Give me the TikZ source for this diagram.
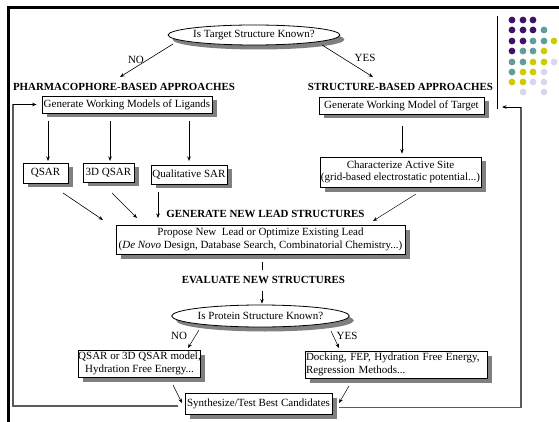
\documentclass[tikz,border=0pt]{standalone}
\usepackage{fontspec}
\setmainfont{Liberation Serif}
\usetikzlibrary{shapes.geometric,shadows,arrows.meta}
\definecolor{shgray}{HTML}{808080}
\definecolor{dpurple}{HTML}{3F1268}
\definecolor{dteal}{HTML}{5F9C9A}
\definecolor{dyellow}{HTML}{CCCC00}
\definecolor{dlav}{HTML}{D8D8EC}
\definecolor{loopgray}{HTML}{5A5A5A}
\tikzset{
  sh/.style={drop shadow={shadow xshift=4.5pt, shadow yshift=-4.5pt, fill=shgray, opacity=1}},
  box/.style={draw=black, line width=0.8pt, fill=white, inner sep=0pt, align=center, sh, font=\fontsize{11}{12.5}\selectfont},
  oval/.style={ellipse, draw=black, line width=0.8pt, fill=white, inner sep=0pt, sh, font=\fontsize{11}{12.5}\selectfont},
  head/.style={font=\fontsize{10.9}{12}\selectfont\bfseries, inner sep=0pt},
  lbl/.style={font=\fontsize{11}{12}\selectfont, inner sep=0pt},
  arr/.style={line width=0.6pt, -{Stealth[length=4.5pt,width=3.5pt]}},
  loopline/.style={line width=1.1pt, draw=loopgray},
}
\begin{document}
\begin{tikzpicture}[x=1pt,y=-1pt]
\useasboundingbox (0,0) rectangle (559,422);
% frame
\draw[line width=3pt] (8,422) -- (8,8) -- (559,8);
\draw[line width=0.9pt] (497,16) -- (497,109);
% dots
\foreach \c/\x/\y in {dpurple/512/20, dpurple/523/20, dpurple/533/20,
  dpurple/512/30, dpurple/523/30, dpurple/533/30, dteal/544/30,
  dpurple/512/41, dpurple/523/41, dteal/533/41, dteal/544/41, dyellow/554/41,
  dpurple/512/51, dteal/523/51, dteal/533/51, dyellow/544/51,
  dteal/512/62, dteal/523/62, dyellow/533/62, dyellow/544/62, dlav/554/62,
  dteal/512/72, dyellow/523/72, dyellow/533/72, dlav/544/72,
  dyellow/512/82, dyellow/523/82, dlav/533/82, dlav/544/82,
  dlav/523/92, dlav/544/92}
  \fill[\c] (\x,\y) circle (3.4pt);

% nodes
\node[oval, minimum width=142pt, minimum height=20pt] (q1) at (254,35) {Is Target Structure Known?};
\node[lbl] (no1) at (136,60) {NO};
\node[lbl] (yes1) at (365,58) {YES};
\node[head] (hph) at (124,87) {PHARMACOPHORE-BASED APPROACHES};
\node[head] (hst) at (400.5,87) {STRUCTURE-BASED APPROACHES};
\node[box, minimum width=170pt, minimum height=17pt] (lig) at (127,104.5) {Generate Working Models of Ligands};
\node[box, minimum width=165pt, minimum height=17pt] (tgt) at (401.5,105.5) {Generate Working Model of Target};
\node[box, minimum width=45pt, minimum height=20pt] (qsar) at (45.5,173) {QSAR};
\node[box, minimum width=51pt, minimum height=19pt] (q3d) at (108.5,172.5) {3D QSAR};
\node[box, minimum width=76pt, minimum height=19pt] (qual) at (189,174.5) {Qualitative SAR};
\node[box, minimum width=161pt, minimum height=30pt] (site) at (400.5,172) {Characterize Active Site\\(grid-based electrostatic potential...)};
\node[head] (hgen) at (265.5,214) {GENERATE NEW LEAD STRUCTURES};
\node[box, minimum width=289pt, minimum height=29pt] (prop) at (260.5,239.5) {Propose New\ \ Lead or Optimize Existing Lead\\(\textit{De Novo} Design, Database Search, Combinatorial Chemistry...)};
\node[head] (hev) at (263.5,280) {EVALUATE NEW STRUCTURES};
\node[oval, minimum width=145pt, minimum height=22pt] (q2) at (260.5,316) {Is Protein Structure Known?};
\node[lbl] (no2) at (179,336) {NO};
\node[lbl] (yes2) at (347,336) {YES};
\node[box, minimum width=121pt, minimum height=27pt] (qm) at (139.5,363.5) {QSAR or 3D QSAR model,\\Hydration Free Energy...};
\node[box, minimum width=182pt, minimum height=27pt, align=left, text width=180pt] (dock) at (396,364.5) {Docking, FEP, Hydration Free Energy,\\Regression Methods...};
\node[box, minimum width=147pt, minimum height=21pt] (syn) at (258.5,403.5) {Synthesize/Test Best Candidates};

% connector end points
\coordinate (a1s) at (173,44);  \coordinate (a1e) at (120,77);
\coordinate (a2s) at (322,45);  \coordinate (a2e) at (373,77);
\coordinate (pA) at (63,193);   \coordinate (pAe) at (103,220);
\coordinate (pB) at (112,193);  \coordinate (pBe) at (137,218);
\coordinate (pC) at (158,192);  \coordinate (pCe) at (158,218);
\coordinate (pD) at (416,194);  \coordinate (pDe) at (373,221);
\coordinate (n2s) at (199,330); \coordinate (n2e) at (188,348);
\coordinate (y2s) at (331,331); \coordinate (y2e) at (339,348);
\coordinate (s1) at (173,385);  \coordinate (s1e) at (182,403);
\coordinate (s2) at (349,386);  \coordinate (s2e) at (339,403);
\coordinate (lb) at (13,406);   \coordinate (lt) at (13,104.5);
\coordinate (rb) at (521,407.5); \coordinate (rt) at (521,107);
\coordinate (ra) at (502,107);
\coordinate (d1) at (48,161); \coordinate (d2) at (110,161); \coordinate (d3) at (189,161);

% connectors
\draw[arr] (a1s) -- (a1e);
\draw[arr] (a2s) -- (a2e);
\draw[arr] (lig.south -| d1) ++(0,8) -- (d1);
\draw[arr] (lig.south -| d2) ++(0,8) -- (d2);
\draw[arr] (lig.south -| d3) ++(0,8) -- (d3);
\draw[arr] (tgt.south) ++(0.5,12) -- ([xshift=1.5pt,yshift=3pt]site.north);
\draw[arr] (pA) -- (pAe);
\draw[arr, line width=0.45pt] (pB) -- (pBe);
\draw[arr, line width=0.45pt] (pC) -- (pCe);
\draw[arr, line width=0.45pt] (pD) -- (pDe);
\draw[line width=0.6pt] (prop.south) ++(1.5,8) -- ++(0,8);
\draw[arr] (hev.south) ++(-1.5,7) -- ([xshift=1.5pt,yshift=1pt]q2.north);
\draw[arr, line width=0.5pt] (n2s) -- (n2e);
\draw[arr, line width=0.5pt] (y2s) -- (y2e);
\draw[arr, line width=0.5pt] (s1) -- (s1e);
\draw[arr, line width=0.5pt] (s2) -- (s2e);
\draw[loopline] (syn.west) ++(-7,2.5) -- (lb) -- (lt);
\draw[arr, line width=0.6pt] (lt) -- ([xshift=-5pt]lig.west);
\draw[loopline] (syn.east) ++(7,4) -- (rb) -- (rt);
\draw[arr, line width=0.6pt] (rt) -- (ra);
\end{tikzpicture}
\end{document}
